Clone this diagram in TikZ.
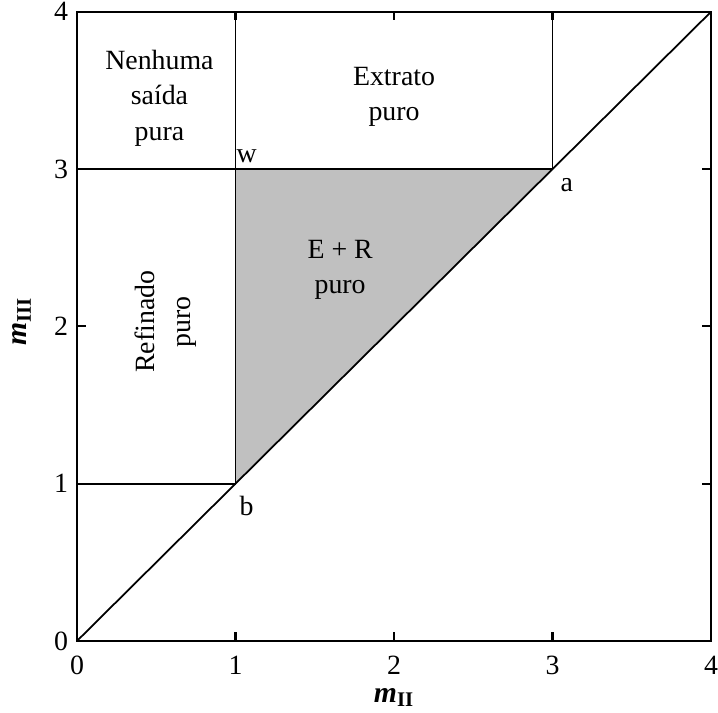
\documentclass[tikz,border=0pt]{standalone}
\usepackage{fontspec}
\setmainfont{Liberation Serif}
\usetikzlibrary{positioning}
\definecolor{griZone}{RGB}{192,192,192}

\begin{document}
\begin{tikzpicture}[x=3cm, y=2.977cm,
  frame/.style={line width=1.2pt},
  bord/.style={line width=0.95pt},
  zone/.style={align=center, font=\fontsize{15}{19}\selectfont},
  ticklbl/.style={font=\fontsize{15}{17}\selectfont, inner sep=1pt},
  ptlbl/.style={font=\fontsize{15}{17}\selectfont, inner sep=1pt},
  axlbl/.style={font=\fontsize{16}{18}\selectfont\bfseries},
]
\useasboundingbox (-0.486,-0.458) rectangle (4.044,4.075);
\coordinate (o)  at (0,0);
\coordinate (d)  at (4,4);
\coordinate (b)  at (1,1);
\coordinate (w)  at (1,3);
\coordinate (a)  at (3,3);
\coordinate (l1) at (0,1);
\coordinate (l3) at (0,3);
\coordinate (t1) at (1,4);
\coordinate (t3) at (3,4);
% zona E + R
\fill[griZone] (b) -- (w) -- (a) -- cycle;
\draw[bord] (l1) -- (b) -- (t1);
\draw[bord] (l3) -- (a) -- (t3);
\draw[bord] (o) -- (d);
\draw[frame] (o) rectangle (d);
% marcas
\foreach \i in {1,2,3} {
  \draw[frame] (\i,0) -- ++(0,0.055);
  \draw[frame] (\i,4) -- ++(0,-0.055);
  \draw[frame] (0,\i) -- ++(0.055,0);
  \draw[frame] (4,\i) -- ++(-0.055,0);
}
\foreach \i in {0,...,4} {
  \node[ticklbl] (x\i) at (\i,-0.155) {\i};
  \node[ticklbl] (y\i) at (-0.1,\i) {\i};
}
% regioes
\node[zone] (nenhuma) at (0.52,3.45) {Nenhuma\\saída\\pura};
\node[zone] (extrato) at (2.0,3.46) {Extrato\\puro};
\node[zone] (er) at (1.66,2.36) {E + R\\puro};
\node[zone, rotate=90] (refinado) at (0.56,2.03) {Refinado\\puro};
\node[ptlbl] (lw) at (1.07,3.08) {w};
\node[ptlbl] (la) at (3.09,2.90) {a};
\node[ptlbl] (lb) at (1.07,0.86) {b};
% eixos
\node[axlbl] (mII) at (2.0,-0.36) {\textit{m}\textsubscript{II}};
\node[axlbl, rotate=90] (mIII) at (-0.35,2.03) {\textit{m}\textsubscript{III}};
\end{tikzpicture}
\end{document}
